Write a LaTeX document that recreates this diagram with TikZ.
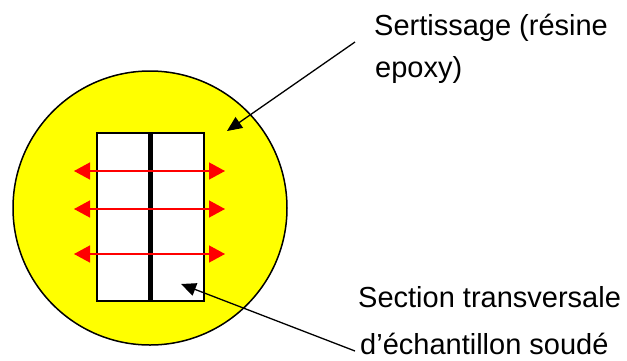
\documentclass[tikz,border=0pt]{standalone}
\usepackage{fontspec}
\setmainfont{Liberation Sans}
\usetikzlibrary{arrows.meta}
\definecolor{resin}{RGB}{255,255,0}
\begin{document}
\begin{tikzpicture}[x=1pt,y=-1pt,
  lbl/.style={anchor=base west,inner sep=0pt,font=\fontsize{29}{34}\selectfont},
  redarrow/.style={draw=red,line width=1.4pt,{Triangle[length=16pt,width=17pt]}-{Triangle[length=16pt,width=17pt]},fill=red},
  pointer/.style={draw=black,line width=1.3pt,-{Triangle[length=15pt,width=13pt]}}]
\useasboundingbox (0,0) rectangle (627,360);
% mount (resin)
\node[circle,draw=black,line width=1.5pt,fill=resin,minimum size=274pt,inner sep=0pt] (mount) at (150,208) {};
% section of welded sample
\node[draw=black,line width=1.5pt,fill=white,minimum width=107pt,minimum height=168pt,inner sep=0pt,anchor=north west] (sample) at (96,132) {};
\fill[black] (147.5,132) rectangle (152.5,300);
% red arrows
\coordinate (a1l) at (74,171); \coordinate (a1r) at (225,171);
\coordinate (a2l) at (74,209); \coordinate (a2r) at (225,209);
\coordinate (a3l) at (74,254); \coordinate (a3r) at (225,254);
\draw[redarrow] (a1l) -- (a1r);
\draw[redarrow] (a2l) -- (a2r);
\draw[redarrow] (a3l) -- (a3r);
% labels
\node[lbl] (t1) at (374,35) {Sertissage (résine};
\node[lbl] (t2) at (375,77) {epoxy)};
\node[lbl] (t3) at (358,307) {Section transversale};
\node[lbl] (t4) at (360,354) {d’échantillon soudé};
% pointers
\coordinate (p1s) at (355,42);
\coordinate (p1e) at (227,131);
\coordinate (p2s) at (355,351);
\coordinate (p2e) at (181,284);
\draw[pointer] (p1s) -- (p1e);
\draw[pointer] (p2s) -- (p2e);
\end{tikzpicture}
\end{document}
